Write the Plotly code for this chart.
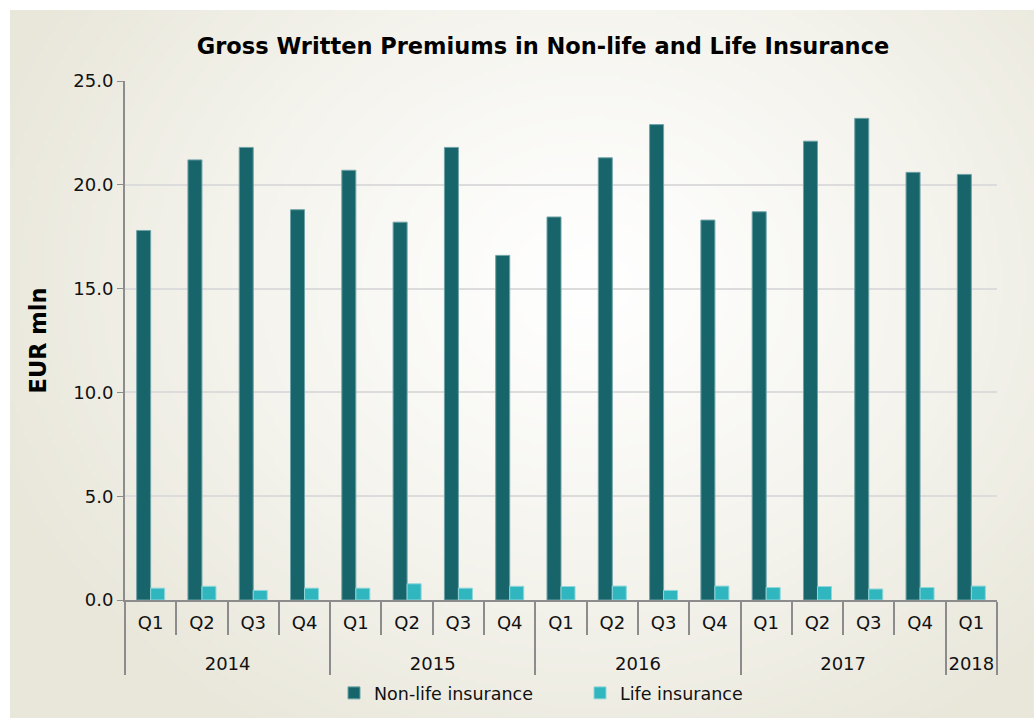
import base64, struct, zlib
import numpy as np
import plotly.graph_objects as go

years = ["2014"] * 4 + ["2015"] * 4 + ["2016"] * 4 + ["2017"] * 4 + ["2018"]
quarters = ["Q1", "Q2", "Q3", "Q4"] * 4 + ["Q1"]
non_life = [17.8, 21.2, 21.8, 18.8, 20.7, 18.2, 21.8, 16.6, 18.45, 21.3, 22.9, 18.3,
            18.7, 22.1, 23.2, 20.6, 20.5]
life = [0.57, 0.66, 0.46, 0.57, 0.57, 0.78, 0.57, 0.66, 0.65, 0.67, 0.46, 0.67,
        0.6, 0.65, 0.53, 0.6, 0.67]

# radial gradient background as PNG
W, H = 256, 180
yy, xx = np.mgrid[0:H, 0:W]
cx, cy = 0.56 * W, 0.38 * H
d = np.sqrt(((xx - cx) / (0.62 * W)) ** 2 + ((yy - cy) / (0.75 * H)) ** 2)
t = np.clip(d, 0, 1) ** 1.2
c0 = np.array([255, 255, 255])
c1 = np.array([233, 231, 218])
img = (c0[None, None, :] * (1 - t[..., None]) + c1[None, None, :] * t[..., None]).astype(np.uint8)
raw = b"".join(b"\x00" + img[r].tobytes() for r in range(H))
def chunk(tag, data):
    c = struct.pack(">I", len(data)) + tag + data
    return c + struct.pack(">I", zlib.crc32(tag + data) & 0xffffffff)
png = b"\x89PNG\r\n\x1a\n" + chunk(b"IHDR", struct.pack(">IIBBBBB", W, H, 8, 2, 0, 0, 0)) \
      + chunk(b"IDAT", zlib.compress(raw, 9)) + chunk(b"IEND", b"")
src = "data:image/png;base64," + base64.b64encode(png).decode()

L, R, T, B = 125, 37, 81, 118
pw, ph = 1034 - L - R, 718 - T - B

year_labels = ["<br>" + y for y in years]

fig = go.Figure()
fig.add_trace(go.Bar(x=[year_labels, quarters], y=non_life, name="Non-life insurance",
                     marker=dict(color="#17656B", line=dict(color="#6FA3A7", width=1))))
fig.add_trace(go.Bar(x=[year_labels, quarters], y=life, name="Life insurance",
                     marker=dict(color="#30B6BE", line=dict(color="#8FD6DA", width=1))))

fig.update_layout(
    width=1034, height=718,
    margin=dict(l=L, r=R, t=T, b=B, autoexpand=False),
    paper_bgcolor="white", plot_bgcolor="rgba(0,0,0,0)",
    font=dict(family="DejaVu Sans, Verdana, sans-serif", color="#111111", size=18),
    barmode="group", bargap=0.454, bargroupgap=0,
    title=dict(text="<b>Gross Written Premiums in Non-life and Life Insurance</b>",
               x=(543 - L) / pw, xref="paper", xanchor="center", y=1 - 46 / 718, yanchor="middle",
               font=dict(size=22.5, color="#000000")),
    legend=dict(orientation="h", x=(334 - L) / pw, xanchor="left",
                y=-(693 - 600) / ph, yanchor="middle",
                entrywidth=201, entrywidthmode="pixels",
                font=dict(size=17.5, color="#111111"), bgcolor="rgba(0,0,0,0)"),
    images=[dict(source=src, xref="paper", yref="paper", x=(10 - L) / pw, y=(600 - 10) / ph,
                 sizex=1030 / pw, sizey=715 / ph, sizing="stretch", layer="below",
                 xanchor="left", yanchor="top")],
    showlegend=True,
)
fig.update_yaxes(range=[0, 25], dtick=5, tickformat=".1f", showgrid=True, gridcolor="#DCDCDC",
                 gridwidth=1.5, showline=True, linecolor="#8C8C8C", linewidth=2, ticks="outside",
                 ticklen=6, tickcolor="#8C8C8C", zeroline=False, automargin=False,
                 tickfont=dict(size=18, color="#111111"),
                 title=dict(text="<b>EUR mln</b>", font=dict(size=22.5, color="#000000"), standoff=20))
fig.update_xaxes(showline=True, linecolor="#8C8C8C", linewidth=2, ticks="outside",
                 tickson="boundaries", ticklen=33, tickcolor="#8C8C8C", tickwidth=2,
                 ticklabelstandoff=5, automargin=False,
                 showdividers=True, dividercolor="#8C8C8C", dividerwidth=2,
                 tickfont=dict(size=18, color="#111111"))

fig.write_html("out.html")
